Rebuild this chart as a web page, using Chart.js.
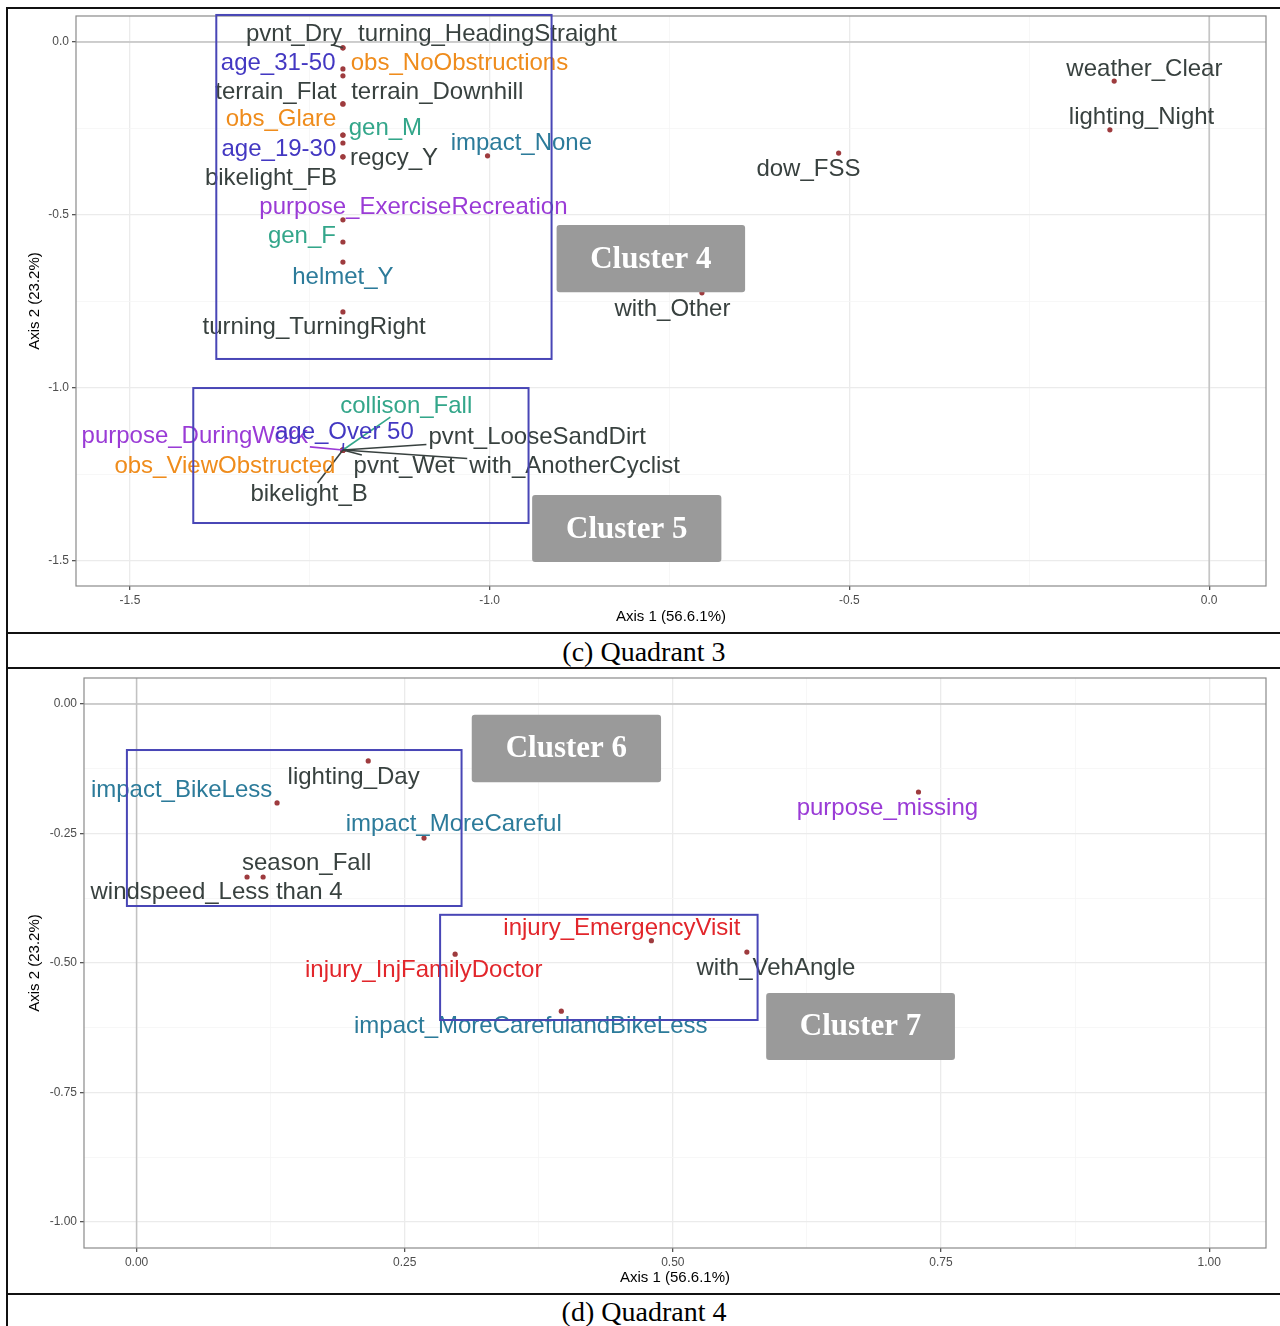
<!DOCTYPE html>
<html>
<head>
<meta charset="utf-8">
<script src="https://cdn.jsdelivr.net/npm/chart.js@4.4.1/dist/chart.umd.min.js"></script>
<style>
  body { margin: 0; background: #fff; }
  #page { position: relative; width: 1280px; height: 1326px; background: #fff; overflow: hidden; }
  .hline { position: absolute; left: 6px; right: 0; height: 2px; background: #111; }
  .vline { position: absolute; left: 6px; top: 7px; bottom: 0; width: 2px; background: #111; }
  .caption { position: absolute; left: 8px; width: 1272px; height: 32px; line-height: 32px; text-align: center;
             font-family: 'Liberation Serif', 'Times New Roman', serif; font-size: 28px; color: #000; }
  .plot { position: absolute; left: 8px; }
</style>
</head>
<body>
<div id="page">
  <div class="hline" style="top:7px"></div>
  <div class="vline"></div>
  <canvas id="q3" class="plot" style="top:10px" width="1270" height="622"></canvas>
  <div class="hline" style="top:632px"></div>
  <div class="caption" style="top:636px">(c) Quadrant 3</div>
  <div class="hline" style="top:667px"></div>
  <canvas id="q4" class="plot" style="top:670px" width="1270" height="622"></canvas>
  <div class="hline" style="top:1293px"></div>
  <div class="caption" style="top:1296px">(d) Quadrant 4</div>
</div>
<script>
// ---- Quadrant 3 data (Axis 1 / Axis 2 coordinates) ----
const q3Categories = ['pvnt_Dry', 'turning_HeadingStraight', 'age_31-50', 'obs_NoObstructions', 'terrain_Flat',
  'terrain_Downhill', 'obs_Glare', 'gen_M', 'impact_None', 'age_19-30', 'regcy_Y', 'bikelight_FB',
  'purpose_ExerciseRecreation', 'gen_F', 'helmet_Y', 'turning_TurningRight', 'weather_Clear', 'lighting_Night',
  'dow_FSS', 'with_Other', 'collison_Fall', 'purpose_DuringWork', 'age_Over 50', 'pvnt_LooseSandDirt',
  'obs_ViewObstructed', 'pvnt_Wet', 'with_AnotherCyclist', 'bikelight_B'];
const q3Axis1 = [-1.204, -1.204, -1.204, -1.204, -1.204, -1.204, -1.204, -1.204, -1.003, -1.204, -1.204, -1.204,
  -1.204, -1.204, -1.204, -1.204, -0.132, -0.138, -0.515, -0.705, -1.204, -1.204, -1.204, -1.204,
  -1.204, -1.204, -1.204, -1.204];
const q3Axis2 = [-0.017, -0.017, -0.078, -0.098, -0.179, -0.179, -0.269, -0.269, -0.329, -0.292, -0.332, -0.332,
  -0.514, -0.578, -0.636, -0.780, -0.113, -0.254, -0.321, -0.725, -1.179, -1.179, -1.179, -1.179,
  -1.179, -1.179, -1.179, -1.179];
const q3TicksX = [-1.5, -1.0, -0.5, 0.0];
const q3TickLabelsX = ['-1.5', '-1.0', '-0.5', '0.0'];
const q3TicksY = [0.0, -0.5, -1.0, -1.5];
const q3TickLabelsY = ['0.0', '-0.5', '-1.0', '-1.5'];

// ---- Quadrant 4 data ----
const q4Categories = ['lighting_Day', 'impact_BikeLess', 'impact_MoreCareful', 'season_Fall', 'windspeed_Less than 4',
  'purpose_missing', 'injury_EmergencyVisit', 'injury_InjFamilyDoctor', 'with_VehAngle', 'impact_MoreCarefulandBikeLess'];
const q4Axis1 = [0.216, 0.131, 0.268, 0.118, 0.103, 0.729, 0.480, 0.297, 0.569, 0.396];
const q4Axis2 = [-0.110, -0.191, -0.259, -0.334, -0.334, -0.170, -0.457, -0.483, -0.479, -0.593];
const q4TicksX = [0.0, 0.25, 0.5, 0.75, 1.0];
const q4TickLabelsX = ['0.00', '0.25', '0.50', '0.75', '1.00'];
const q4TicksY = [0.0, -0.25, -0.5, -0.75, -1.0];
const q4TickLabelsY = ['0.00', '-0.25', '-0.50', '-0.75', '-1.00'];

// ---- label placement (repelled text, in axis units) and overlays ----
const q3LabelAt = [[-1.272, 0.023], [-1.003, 0.023], [-1.294, -0.061], [-1.042, -0.061], [-1.297, -0.145],
  [-1.073, -0.145], [-1.290, -0.225], [-1.145, -0.251], [-0.956, -0.292], [-1.293, -0.309], [-1.133, -0.335],
  [-1.304, -0.393], [-1.106, -0.477], [-1.261, -0.561], [-1.204, -0.679], [-1.244, -0.824], [-0.090, -0.078],
  [-0.094, -0.217], [-0.557, -0.367], [-0.746, -0.772], [-1.116, -1.052], [-1.410, -1.139], [-1.202, -1.127],
  [-0.934, -1.142], [-1.368, -1.225], [-1.119, -1.225], [-0.882, -1.225], [-1.251, -1.306]];
const q3Leaders = ['pvnt_Dry', 'collison_Fall', 'purpose_DuringWork', 'age_Over 50', 'pvnt_LooseSandDirt',
  'pvnt_Wet', 'with_AnotherCyclist', 'bikelight_B'];
const q3Boxes = [[-1.380, 0.078, -0.914, -0.916], [-1.412, -1.0, -0.946, -1.390]];
const q3Tags = [['Cluster 4', -0.907, -0.529, -0.645, -0.723], ['Cluster 5', -0.941, -1.309, -0.678, -1.503]];

const q4LabelAt = [[0.2024, -0.1409], [0.0420, -0.1660], [0.2957, -0.2317], [0.1586, -0.3069], [0.0746, -0.3629],
  [0.7000, -0.2008], [0.4524, -0.4324], [0.2677, -0.5135], [0.5961, -0.5097], [0.3675, -0.6232]];
const q4Leaders = [];
const q4Boxes = [[-0.009, -0.089, 0.303, -0.390], [0.283, -0.407, 0.579, -0.610]];
const q4Tags = [['Cluster 6', 0.3125, -0.021, 0.489, -0.151], ['Cluster 7', 0.587, -0.558, 0.763, -0.687]];

const textColors = {
  age: '#4338c2', obs: '#ef8c1c', gen: '#33a68a', collison: '#33a68a', impact: '#2c7b9a',
  helmet: '#2c7b9a', purpose: '#9a3bd6', injury: '#e2262b'
};
const darkText = '#38413f';
const colorFor = name => textColors[name.split('_')[0]] || darkText;

const labelFont = "24px 'Liberation Sans', Arial, sans-serif";

const overlay = {
  id: 'overlay',
  beforeDatasetsDraw(chart) {
    const { ctx, chartArea: a, scales: { x, y } } = chart;
    ctx.save();
    // reference lines at 0
    ctx.strokeStyle = '#c2c2c2';
    ctx.lineWidth = 1.5;
    const x0 = x.getPixelForValue(0), y0 = y.getPixelForValue(0);
    ctx.beginPath();
    if (x0 >= a.left && x0 <= a.right) { ctx.moveTo(x0, a.top); ctx.lineTo(x0, a.bottom); }
    if (y0 >= a.top && y0 <= a.bottom) { ctx.moveTo(a.left, y0); ctx.lineTo(a.right, y0); }
    ctx.stroke();
    // panel border
    ctx.strokeStyle = '#8a8a8a';
    ctx.lineWidth = 1.2;
    ctx.strokeRect(a.left, a.top, a.right - a.left, a.bottom - a.top);
    ctx.restore();
  },
  afterDatasetsDraw(chart) {
    const o = chart.options.plugins.overlay;
    const { ctx, scales: { x, y } } = chart;
    ctx.save();
    ctx.font = labelFont;
    ctx.textAlign = 'center';
    ctx.textBaseline = 'middle';

    // leader segments (point -> edge of label box)
    o.names.forEach((name, i) => {
      if (!o.leaders.includes(name)) return;
      const px = x.getPixelForValue(o.xs[i]), py = y.getPixelForValue(o.ys[i]);
      const cx = x.getPixelForValue(o.at[i][0]), cy = y.getPixelForValue(o.at[i][1]);
      const w = ctx.measureText(name).width / 2 + 2, h = 11;
      const dx = cx - px, dy = cy - py;
      let t = 0;
      if (dx !== 0) t = Math.max(t, Math.min((cx - w - px) / dx, (cx + w - px) / dx));
      if (dy !== 0) t = Math.max(t, Math.min((cy - h - py) / dy, (cy + h - py) / dy));
      const ex = px + dx * t, ey = py + dy * t;
      if (Math.hypot(ex - px, ey - py) < 4) return;
      ctx.strokeStyle = colorFor(name);
      ctx.lineWidth = 1.6;
      ctx.beginPath();
      ctx.moveTo(px, py);
      ctx.lineTo(ex, ey);
      ctx.stroke();
    });

    // text labels
    o.names.forEach((name, i) => {
      ctx.fillStyle = colorFor(name);
      ctx.fillText(name, x.getPixelForValue(o.at[i][0]), y.getPixelForValue(o.at[i][1]));
    });

    // cluster outlines
    ctx.strokeStyle = '#4846b6';
    ctx.lineWidth = 2;
    o.boxes.forEach(b => {
      const l = x.getPixelForValue(b[0]), t = y.getPixelForValue(b[1]);
      const r = x.getPixelForValue(b[2]), btm = y.getPixelForValue(b[3]);
      ctx.strokeRect(l, t, r - l, btm - t);
    });

    // grey cluster tags
    o.tags.forEach(([text, x1, y1, x2, y2]) => {
      const l = x.getPixelForValue(x1), t = y.getPixelForValue(y1);
      const r = x.getPixelForValue(x2), btm = y.getPixelForValue(y2);
      ctx.fillStyle = '#9a9a9a';
      ctx.beginPath();
      ctx.roundRect(l, t, r - l, btm - t, 3);
      ctx.fill();
      ctx.fillStyle = '#ffffff';
      ctx.font = "bold 31px 'Liberation Serif', 'Times New Roman', serif";
      ctx.fillText(text, (l + r) / 2, (t + btm) / 2 + 1);
    });
    ctx.restore();
  }
};

function makeAxis(kind, major, texts, min, max, title, size, titlePad) {
  const sorted = major.slice().sort((a, b) => a - b);
  const values = sorted.slice();
  for (let i = 0; i < sorted.length - 1; i++) values.push((sorted[i] + sorted[i + 1]) / 2);
  values.sort((a, b) => a - b);
  const majorIndex = v => major.findIndex(m => Math.abs(m - v) < 1e-9);
  const isMajor = c => c.tick && majorIndex(c.tick.value) >= 0;
  return {
    type: 'linear',
    min: min,
    max: max,
    bounds: 'data',
    afterBuildTicks: s => { s.ticks = values.map(v => ({ value: v })); },
    afterFit: s => {
      if (kind === 'x') s.height = size; else s.width = size;
      // no extra room for overhanging tick labels, keep the panel where it is
      s.paddingTop = s.paddingBottom = s.paddingLeft = s.paddingRight = 0;
    },
    border: { display: false },
    grid: {
      color: c => isMajor(c) ? '#ebebeb' : '#f5f5f5',
      lineWidth: c => isMajor(c) ? 1.3 : 0.8,
      tickColor: c => isMajor(c) ? '#555555' : 'rgba(0,0,0,0)',
      tickLength: 4
    },
    ticks: {
      autoSkip: false,
      maxRotation: 0,
      padding: 3,
      color: '#4d4d4d',
      font: { size: 12, family: "'Liberation Sans', Arial, sans-serif" },
      callback: v => { const i = majorIndex(v); return i < 0 ? '' : texts[i]; }
    },
    title: {
      display: true,
      text: title,
      color: '#000',
      font: { size: 15, family: "'Liberation Sans', Arial, sans-serif" },
      padding: kind === 'x' ? { top: 0, bottom: titlePad } : { top: titlePad, bottom: 0 }
    }
  };
}

function drawQuadrant(id, names, xs, ys, cfg) {
  return new Chart(document.getElementById(id), {
    type: 'scatter',
    data: {
      datasets: [{
        data: xs.map((v, i) => ({ x: v, y: ys[i] })),
        pointRadius: 2.6,
        pointHoverRadius: 2.6,
        pointBackgroundColor: '#9e3b3e',
        pointBorderWidth: 0
      }]
    },
    options: {
      responsive: false,
      animation: false,
      layout: { padding: cfg.padding },
      plugins: {
        legend: { display: false },
        tooltip: { enabled: false },
        overlay: { names, xs, ys, at: cfg.at, leaders: cfg.leaders, boxes: cfg.boxes, tags: cfg.tags }
      },
      scales: {
        x: makeAxis('x', cfg.ticksX, cfg.tickLabelsX, cfg.xRange[0], cfg.xRange[1], 'Axis 1 (56.6.1%)', cfg.xAxisSize, cfg.xTitlePad),
        y: makeAxis('y', cfg.ticksY, cfg.tickLabelsY, cfg.yRange[0], cfg.yRange[1], 'Axis 2 (23.2%)', cfg.yAxisSize, 18)
      }
    },
    plugins: [overlay]
  });
}

drawQuadrant('q3', q3Categories, q3Axis1, q3Axis2, {
  at: q3LabelAt, leaders: q3Leaders, boxes: q3Boxes, tags: q3Tags,
  ticksX: q3TicksX, tickLabelsX: q3TickLabelsX, ticksY: q3TicksY, tickLabelsY: q3TickLabelsY,
  xRange: [-1.575, 0.079], yRange: [-1.572, 0.075],
  padding: { left: 0, top: 6, right: 12, bottom: 0 }, xAxisSize: 46, yAxisSize: 68, xTitlePad: 6
});

drawQuadrant('q4', q4Categories, q4Axis1, q4Axis2, {
  at: q4LabelAt, leaders: q4Leaders, boxes: q4Boxes, tags: q4Tags,
  ticksX: q4TicksX, tickLabelsX: q4TickLabelsX, ticksY: q4TicksY, tickLabelsY: q4TickLabelsY,
  xRange: [-0.049, 1.053], yRange: [-1.05, 0.05],
  padding: { left: 0, top: 8, right: 12, bottom: 0 }, xAxisSize: 44, yAxisSize: 76, xTitlePad: 5
});
</script>
</body>
</html>
